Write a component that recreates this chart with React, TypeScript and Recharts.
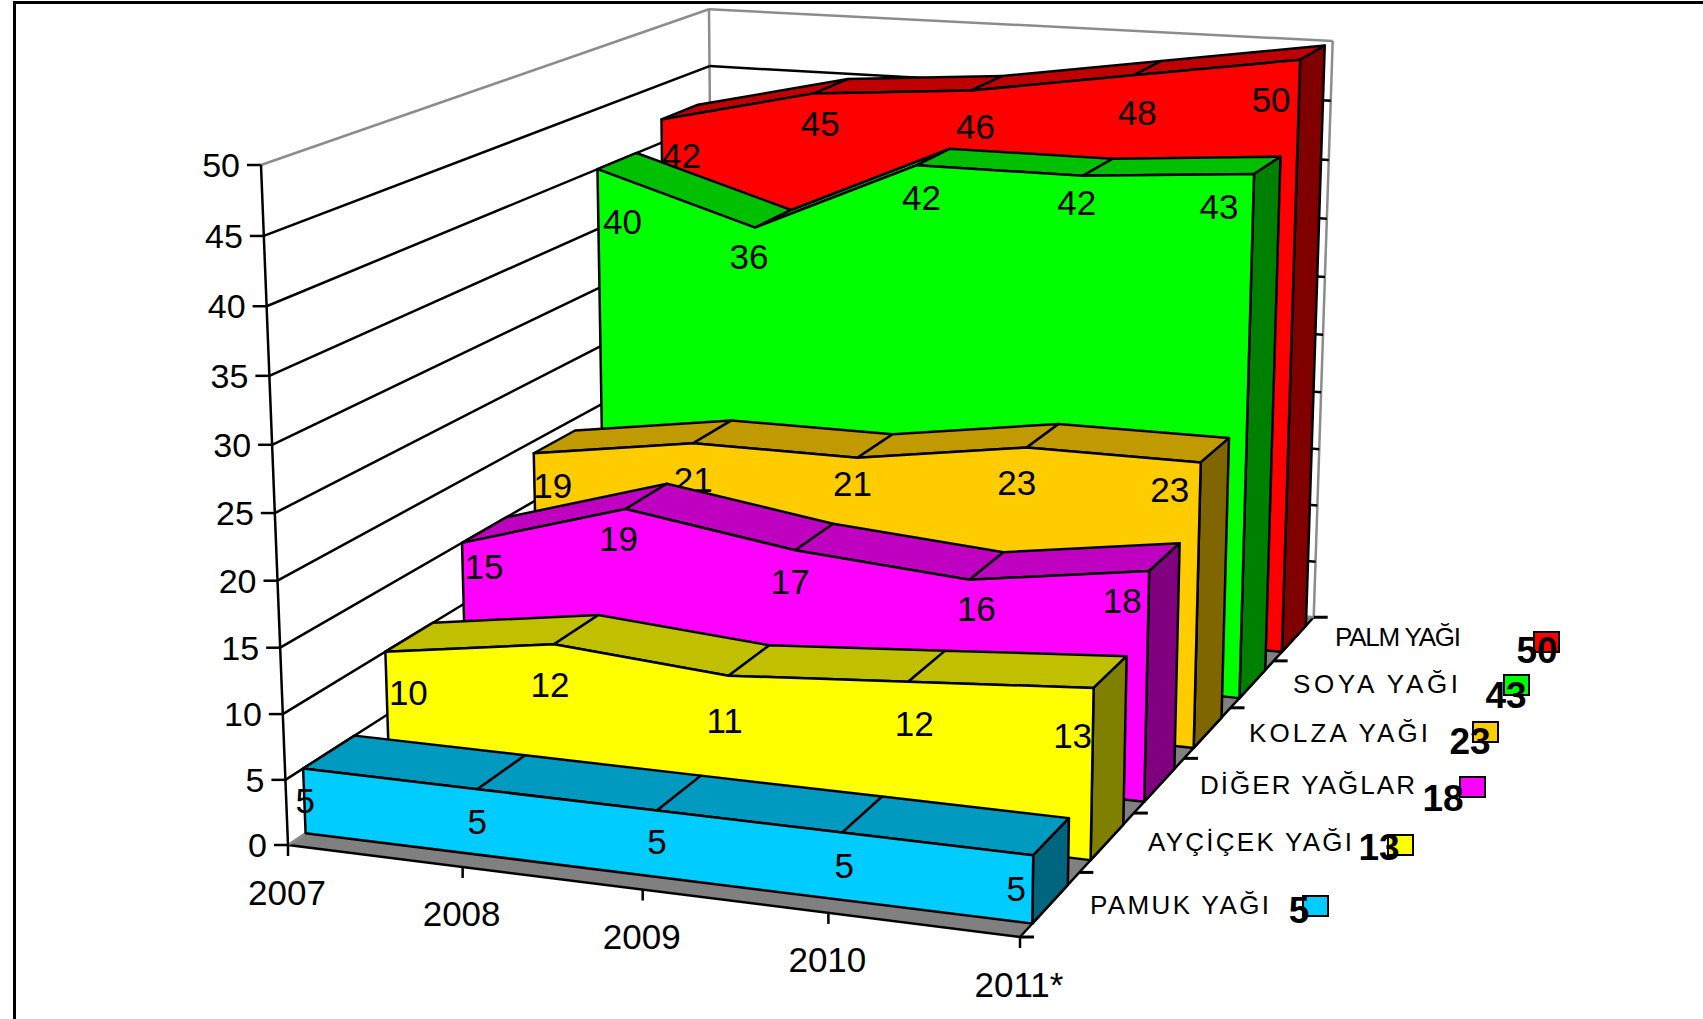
import React from 'react';
import { AreaChart, Area, XAxis, YAxis, CartesianGrid } from 'recharts';

const years = ['2007', '2008', '2009', '2010', '2011*'];
const pamuk = [5, 5, 5, 5, 5];
const aycicek = [10, 12, 11, 12, 13];
const diger = [15, 19, 17, 16, 18];
const kolza = [19, 21, 21, 23, 23];
const soya = [40, 36, 42, 42, 43];
const palm = [42, 45, 46, 48, 50];
const yTicks = [0, 5, 10, 15, 20, 25, 30, 35, 40, 45, 50];

const rows = years.map((year, i) => ({
  year,
  pamuk: pamuk[i],
  aycicek: aycicek[i],
  diger: diger[i],
  kolza: kolza[i],
  soya: soya[i],
  palm: palm[i],
}));

// flat plot rect handed to recharts; every scaled point is then pushed through project()
const PLOT = { left: 100, top: 50, width: 1500, height: 900 };
const FONT = '"Liberation Sans", Arial, sans-serif';
const SLOTS = 6;
const LINE = 2.5;

// corners of the 3D box on screen and the perspective weight of each axis
const O = [288, 845];
const PX = [1020, 937];
const PY = [261, 165];
const PZ = [714, 559];
const WX = 0.94;
const WY = 0.9537;
const WZ = 1.25;

const project = (u: number, v: number, d: number): [number, number] => {
  const w = 1 + u * (WX - 1) + v * (WY - 1) + d * (WZ - 1);
  const at = (k: number) =>
    O[k] + u * (WX * PX[k] - O[k]) + v * (WY * PY[k] - O[k]) + d * (WZ * PZ[k] - O[k]);
  return [at(0) / w, at(1) / w];
};

const toU = (x: number) => (x - PLOT.left) / PLOT.width;
const toV = (y: number) => (PLOT.top + PLOT.height - y) / PLOT.height;
const poly = (pts: [number, number][]) => pts.map((p) => `${p[0]},${p[1]}`).join(' ');

type Ribbon = {
  key: string;
  label: string;
  slot: number;
  front: string;
  top: string;
  side: string;
  // value label placement relative to the top edge of the front face
  nudge: [number, number][];
  legendX: number;
  legendY: number;
  legendW: number;
  valueX: number;
  valueY: number;
  swatchX: number;
  swatchY: number;
};

// listed back to front so nearer ribbons paint over farther ones
const ribbons: Ribbon[] = [
  {
    key: 'palm', label: 'PALM YAĞI', slot: 5, front: '#ff0000', top: '#c00000', side: '#800000',
    nudge: [[20, 36], [6, 30], [4, 36], [4, 37], [-29, 40]],
    legendX: 1335, legendY: 637, legendW: 126, valueX: 1537, valueY: 650, swatchX: 1534, swatchY: 632,
  },
  {
    key: 'soya', label: 'SOYA YAĞI', slot: 4, front: '#00ff00', top: '#00c000', side: '#008000',
    nudge: [[25, 52], [-6, 29], [5, 32], [-6, 27], [-35, 33]],
    legendX: 1293, legendY: 684, legendW: 165, valueX: 1506, valueY: 695, swatchX: 1504, swatchY: 675,
  },
  {
    key: 'kolza', label: 'KOLZA YAĞI', slot: 3, front: '#ffcc00', top: '#c09a00', side: '#806600',
    nudge: [[19, 32], [0, 36], [-5, 26], [-10, 35], [-31, 27]],
    legendX: 1249, legendY: 733, legendW: 179, valueX: 1470, valueY: 741, swatchX: 1473, swatchY: 722,
  },
  {
    key: 'diger', label: 'DİĞER YAĞLAR', slot: 2, front: '#ff00ff', top: '#c000c0', side: '#800080',
    nudge: [[22, 24], [-7, 30], [-5, 31], [7, 29], [-27, 29]],
    legendX: 1200, legendY: 785, legendW: 215, valueX: 1443, valueY: 798, swatchX: 1460, swatchY: 777,
  },
  {
    key: 'aycicek', label: 'AYÇİÇEK YAĞI', slot: 1, front: '#ffff00', top: '#c0c000', side: '#808000',
    nudge: [[23, 41], [-4, 40], [-4, 45], [6, 42], [-21, 48]],
    legendX: 1148, legendY: 842, legendW: 204, valueX: 1379, valueY: 847, swatchX: 1388, swatchY: 835,
  },
  {
    key: 'pamuk', label: 'PAMUK YAĞI', slot: 0, front: '#00ccff', top: '#0099c0', side: '#006680',
    nudge: [[2, 32], [0, 32], [0, 31], [2, 33], [-17, 33]],
    legendX: 1090, legendY: 905, legendW: 179, valueX: 1299, valueY: 910, swatchX: 1303, swatchY: 896,
  },
];

const RibbonShape = ({ ribbon, points }: { ribbon: Ribbon; points: { x: number; y: number }[] }) => {
  const df = (ribbon.slot + 0.2) / SLOTS;
  const db = (ribbon.slot + 0.8) / SLOTS;
  const uv = points.map((p) => [toU(p.x), toV(p.y)]);
  const last = uv[uv.length - 1];
  const stroke = { stroke: '#000', strokeWidth: LINE, strokeLinejoin: 'round' as const };
  const front = [
    project(0, 0, df),
    ...uv.map(([u, v]) => project(u, v, df)),
    project(1, 0, df),
  ];
  const values = rows.map((row) => row[ribbon.key as keyof (typeof rows)[number]]);
  return (
    <g>
      {uv.slice(0, -1).map(([u, v], i) => {
        const [nu, nv] = uv[i + 1];
        return (
          <polygon
            key={i}
            points={poly([project(u, v, df), project(nu, nv, df), project(nu, nv, db), project(u, v, db)])}
            fill={ribbon.top}
            {...stroke}
          />
        );
      })}
      <polygon
        points={poly([project(1, 0, df), project(1, last[1], df), project(1, last[1], db), project(1, 0, db)])}
        fill={ribbon.side}
        {...stroke}
      />
      <polygon points={poly(front)} fill={ribbon.front} {...stroke} />
      {uv.map(([u, v], i) => {
        const [x, y] = project(u, v, df);
        return (
          <text key={i} x={x + ribbon.nudge[i][0]} y={y + ribbon.nudge[i][1]} fontSize={35} fontFamily={FONT} textAnchor="middle" dominantBaseline="central" fill="#000">
            {values[i]}
          </text>
        );
      })}
      <rect x={ribbon.swatchX} y={ribbon.swatchY} width={25} height={20} fill={ribbon.front} stroke="#000" strokeWidth={2} />
      <text x={ribbon.legendX} y={ribbon.legendY} fontSize={26} fontFamily={FONT} textLength={ribbon.legendW} lengthAdjust="spacing" dominantBaseline="central" fill="#000">
        {ribbon.label}
      </text>
      <text x={ribbon.valueX} y={ribbon.valueY} fontSize={37} fontWeight="bold" fontFamily={FONT} textAnchor="middle" dominantBaseline="central" fill="#000">
        {values[values.length - 1]}
      </text>
    </g>
  );
};

// walls, floor and gridlines hang off the chart's own horizontal grid positions
const WallLine = (props: any) => {
  const v = toV(props.y1);
  const edge = Math.abs(v - 1) < 1e-6;
  const floor = Math.abs(v) < 1e-6;
  const color = edge || floor ? '#8c8c8c' : '#000';
  const [ax, ay] = project(0, v, 0);
  const [bx, by] = project(0, v, 1);
  const [cx, cy] = project(1, v, 1);
  return (
    <g key={props.key}>
      {floor && (
        <>
          <polygon points={poly([project(0, 0, 0), project(1, 0, 0), project(1, 0, 1), project(0, 0, 1)])} fill="#808080" />
          <line x1={project(0, 0, 0)[0]} y1={project(0, 0, 0)[1]} x2={project(1, 0, 0)[0]} y2={project(1, 0, 0)[1]} stroke="#000" strokeWidth={LINE} />
          <line x1={project(1, 0, 0)[0]} y1={project(1, 0, 0)[1]} x2={project(1, 0, 1)[0]} y2={project(1, 0, 1)[1]} stroke="#000" strokeWidth={LINE} />
          <line x1={project(0, 0, 1)[0]} y1={project(0, 0, 1)[1]} x2={project(0, 1, 1)[0]} y2={project(0, 1, 1)[1]} stroke="#8c8c8c" strokeWidth={LINE} />
          <line x1={project(1, 0, 1)[0]} y1={project(1, 0, 1)[1]} x2={project(1, 1, 1)[0]} y2={project(1, 1, 1)[1]} stroke="#8c8c8c" strokeWidth={LINE} />
          {Array.from({ length: SLOTS + 1 }, (_, i) => {
            const [tx, ty] = project(1, 0, i / SLOTS);
            return <line key={i} x1={tx} y1={ty} x2={tx + 14} y2={ty} stroke="#000" strokeWidth={3} />;
          })}
        </>
      )}
      <line x1={ax} y1={ay} x2={bx} y2={by} stroke={color} strokeWidth={LINE} />
      <line x1={bx} y1={by} x2={cx} y2={cy} stroke={color} strokeWidth={LINE} />
    </g>
  );
};

const YTick = (props: any) => {
  const v = toV(props.y);
  const [x, y] = project(0, v, 0);
  const [bx, by] = project(0, 0, 0);
  return (
    <g>
      {Math.abs(v) < 1e-6 && <line x1={bx} y1={by} x2={project(0, 1, 0)[0]} y2={project(0, 1, 0)[1]} stroke="#000" strokeWidth={LINE} />}
      <line x1={x - 14} y1={y} x2={x} y2={y} stroke="#000" strokeWidth={LINE} />
      <text x={x - 21} y={y} fontSize={34} fontFamily={FONT} textAnchor="end" dominantBaseline="central" fill="#000">
        {props.payload.value}
      </text>
    </g>
  );
};

const XTick = (props: any) => {
  const u = toU(props.x);
  const [x, y] = project(u, 0, 0);
  return (
    <g>
      <line x1={x} y1={y} x2={x} y2={y + 11} stroke="#000" strokeWidth={LINE} />
      <text x={x - 1} y={y + 47} fontSize={35} fontFamily={FONT} textAnchor="middle" dominantBaseline="central" fill="#000">
        {props.payload.value}
      </text>
    </g>
  );
};

export default function App() {
  return (
    <div style={{ position: 'absolute', left: 0, top: 0, width: 1703, height: 1019, background: '#fff', overflow: 'hidden' }}>
      <div style={{ position: 'absolute', left: 13, top: 1, right: -10, bottom: -10, borderLeft: '3px solid #000', borderTop: '3px solid #000' }} />
      <div style={{ position: 'absolute', left: 0, top: 0 }}>
        <AreaChart
          width={1703}
          height={1019}
          data={rows}
          margin={{ left: PLOT.left - 1, top: PLOT.top, right: 1703 - PLOT.left - PLOT.width, bottom: 1019 - PLOT.top - PLOT.height - 1 }}
        >
          <CartesianGrid vertical={false} horizontal={WallLine as any} />
          <XAxis dataKey="year" height={1} axisLine={false} tickLine={false} interval={0} tick={XTick as any} />
          <YAxis width={1} domain={[0, 50]} ticks={yTicks} axisLine={false} tickLine={false} interval={0} tick={YTick as any} />
          {ribbons.map((r) => (
            <Area
              key={r.key}
              dataKey={r.key}
              fill="none"
              stroke="none"
              isAnimationActive={false}
              dot={(p: any) =>
                p.index === 0 ? <RibbonShape key={r.key} ribbon={r} points={p.points} /> : <g key={p.index} />
              }
            />
          ))}
        </AreaChart>
      </div>
    </div>
  );
}
